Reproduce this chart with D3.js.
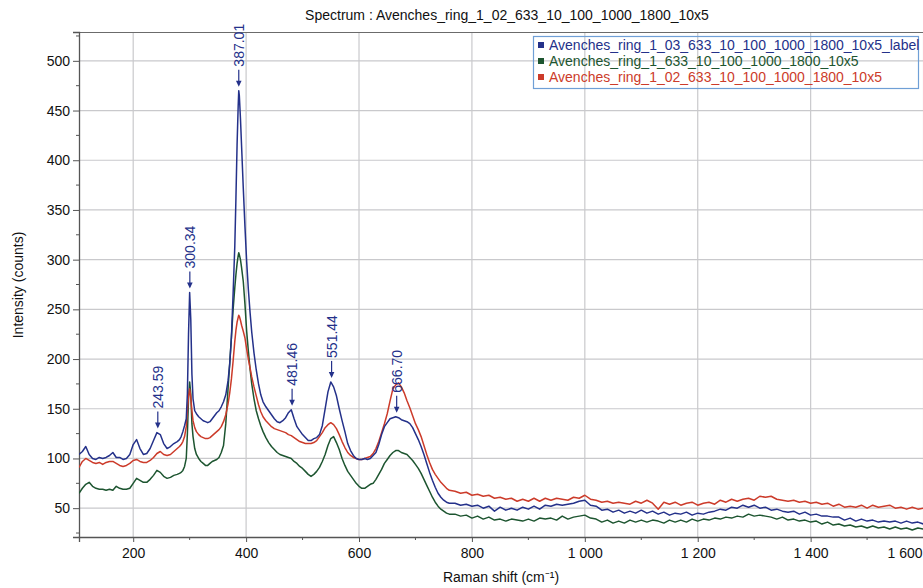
<!DOCTYPE html>
<html>
<head>
<meta charset="utf-8">
<script src="https://cdn.jsdelivr.net/npm/d3@7"></script>
<style>
  html, body { margin: 0; padding: 0; background: #ffffff; }
  svg { display: block; font-family: "Liberation Sans", Arial, sans-serif; }
</style>
</head>
<body>
<svg id="chart" width="923" height="588"></svg>
<script>
// Raman shift sampling (cm-1), shared by all three spectra
const ramanShift = [
  104,110,116,122,128,134,140,146,152,158,164,170,176,182,188,194,200,206,212,218,224,230,236,242,248,254,260,266,272,278,
  282,285,288,291,294,296,298,300,302,304,306,309,312,316,320,
  324,328,332,336,340,344,348,352,356,360,364,368,
  371,374,377,380,382,384,386,387,388,390,392,395,398,401,404,407,410,414,418,422,426,430,
  435,440,445,450,455,460,465,470,475,480,485,490,495,500,505,510,515,520,525,530,
  535,540,545,550,555,560,565,570,575,580,585,590,595,600,605,610,615,620,625,630,
  635,640,645,650,655,660,665,670,675,680,685,690,695,700,705,710,715,720,725,730,
  735,740,745,750,755,760,
  770,780,790,800,810,820,830,840,850,860,870,880,890,900,910,920,930,940,950,960,
  970,980,990,1000,1010,1020,1030,1040,1050,1060,1070,1080,1090,1100,1110,1120,1130,1140,1150,1160,
  1170,1180,1190,1200,1210,1220,1230,1240,1250,1260,1270,1280,1290,1300,1310,1320,1330,1340,1350,1360,
  1370,1380,1390,1400,1410,1420,1430,1440,1450,1460,1470,1480,1490,1500,1510,1520,1530,1540,1550,1560,
  1570,1580,1590,1600,1610,1620
];

// Avenches_ring_1_03_633_10_100_1000_1800_10x5_label
const intensityRing103 = [
  104,107,112,104,100,99,101,100,101,103,106,101,101,99,100,104,114,119,110,104,105,110,118,126,124,115,110,112,115,117,
  119,122,127,133,140,165,225,267,240,185,160,148,145,142,140,
  138,137,136,137,140,143,146,148,152,157,164,178,
  195,222,266,314,362,415,455,470,465,442,414,372,333,298,270,247,227,206,189,175,164,157,
  152,148,144,140,137,136,138,141,146,149,140,132,128,124,121,118,118,120,121,124,
  133,150,167,177,172,163,150,138,127,115,108,103,100,99,99,100,99,100,103,106,
  114,124,132,136,140,141,142,141,139,138,137,135,131,125,119,112,104,95,86,78,
  71,65,61,58,56,55,
  55,53,54,52,53,50,52,47,51,48,50,48,51,49,52,49,53,52,54,53,
  54,55,57,58,53,52,48,49,46,48,45,47,45,48,45,47,44,46,43,45,
  44,46,43,45,44,46,47,49,48,51,50,53,51,53,50,51,48,49,47,46,
  47,44,46,43,44,42,42,41,41,38,40,37,39,37,38,36,37,36,37,35,
  37,35,36,34,36,35
];

// Avenches_ring_1_633_10_100_1000_1800_10x5
const intensityRing1 = [
  65,70,74,76,72,70,69,69,68,69,68,72,70,69,69,70,75,80,78,76,76,79,83,88,86,82,80,81,83,84,
  85,86,88,92,100,125,160,177,165,135,122,110,104,100,97,
  95,93,93,95,97,98,99,101,106,113,135,170,
  196,222,250,272,285,296,304,307,305,300,292,278,255,228,208,190,175,160,148,140,133,127,
  121,116,112,109,106,104,103,102,101,100,97,95,92,90,87,84,82,84,87,91,
  97,104,113,120,122,116,109,100,93,87,83,79,75,72,70,70,72,74,75,79,
  84,89,95,99,103,106,108,108,106,105,104,101,98,94,90,85,79,73,67,61,
  56,52,49,47,45,44,
  44,42,43,40,42,39,41,38,39,37,39,38,37,39,37,40,39,40,38,42,
  39,41,42,43,40,39,36,38,35,37,35,38,36,38,36,38,37,35,38,36,
  38,36,39,37,39,38,40,39,41,40,42,41,44,42,43,42,41,39,41,38,
  39,37,38,36,37,34,36,33,34,32,33,31,32,30,32,30,31,29,31,29,
  30,28,30,29,29,28
];

// Avenches_ring_1_02_633_10_100_1000_1800_10x5
const intensityRing102 = [
  91,97,100,98,96,95,96,94,96,97,97,95,93,92,93,95,98,99,97,96,96,98,101,105,107,104,103,104,107,110,
  112,114,117,122,132,148,162,170,162,148,138,131,127,124,122,
  121,120,120,121,123,125,127,129,132,137,144,155,
  166,180,198,218,229,237,242,244,243,239,234,228,221,210,200,191,182,172,163,154,147,142,
  138,135,132,130,129,128,127,126,124,123,121,119,117,116,115,115,115,116,118,122,
  126,131,134,136,134,130,124,117,111,106,103,101,100,99,99,100,101,102,105,110,
  117,126,135,145,158,170,174,176,172,166,158,151,143,135,129,122,113,104,96,89,
  84,80,76,73,70,68,
  67,65,66,63,64,62,63,60,61,59,60,57,59,57,60,57,60,58,60,59,
  58,61,60,63,59,58,56,57,55,56,55,54,57,55,58,55,49,56,54,56,
  53,55,56,53,55,56,54,58,56,59,57,59,60,58,62,61,62,59,58,57,
  58,56,57,55,56,54,55,52,54,51,52,51,53,50,53,51,52,53,50,51,
  49,51,49,50,48,49
];

// Series names and colours, in legend order
const seriesNames = [
  "Avenches_ring_1_03_633_10_100_1000_1800_10x5_label",
  "Avenches_ring_1_633_10_100_1000_1800_10x5",
  "Avenches_ring_1_02_633_10_100_1000_1800_10x5"
];
const seriesColors = ["#24318a", "#1d5530", "#cc3b2a"];
const seriesValues = [intensityRing103, intensityRing1, intensityRing102];
// drawing order: green, red, blue on top
const drawOrder = [1, 2, 0];

// Labelled peaks of the *_label spectrum
const peakShifts = [243.59, 300.34, 387.01, 481.46, 551.44, 666.70];

// Axis ticks
const xTickValues = [200, 400, 600, 800, 1000, 1200, 1400, 1600];
const xMinorTicks = [300, 500, 700, 900, 1100, 1300, 1500];
const yTickValues = [50, 100, 150, 200, 250, 300, 350, 400, 450, 500];
const yMinorTicks = [25, 75, 125, 175, 225, 275, 325, 375, 425, 475, 525];

const titleText = "Spectrum : Avenches_ring_1_02_633_10_100_1000_1800_10x5";
const xTitle = "Raman shift (cm\u207B\u00B9)";
const yTitle = "Intensity (counts)";

// ---- layout ----
const W = 923, H = 588;
const plot = { left: 79, top: 32, bottom: 537, right: 980 };

const x = d3.scaleLinear().domain([104, 1700]).range([plot.left, plot.right]);
const y = d3.scaleLinear().domain([21, 529]).range([plot.bottom, plot.top]);

const svg = d3.select("#chart");
const fmt = d3.formatLocale({ decimal: ".", thousands: " ", grouping: [3], currency: ["", ""] }).format(",");

svg.append("defs").append("clipPath").attr("id", "plotClip")
  .append("rect")
  .attr("x", plot.left).attr("y", plot.top)
  .attr("width", plot.right - plot.left).attr("height", plot.bottom - plot.top);

// grid
const grid = svg.append("g").attr("stroke", "#c9c9cc").attr("stroke-width", 1.2);
grid.selectAll("line.v").data(xTickValues).join("line")
  .attr("class", "v")
  .attr("x1", d => x(d)).attr("x2", d => x(d))
  .attr("y1", plot.top).attr("y2", plot.bottom);
grid.selectAll("line.h").data(yTickValues).join("line")
  .attr("class", "h")
  .attr("x1", plot.left).attr("x2", plot.right)
  .attr("y1", d => y(d)).attr("y2", d => y(d));

// top frame line
svg.append("line")
  .attr("x1", plot.left).attr("x2", plot.right)
  .attr("y1", plot.top + 0.5).attr("y2", plot.top + 0.5)
  .attr("stroke", "#6b6b6b").attr("stroke-width", 1.2);

// axes
const axisColor = "#555";
const xAxis = svg.append("g")
  .attr("transform", `translate(0,${plot.bottom})`)
  .call(d3.axisBottom(x).tickValues(xTickValues).tickFormat(fmt).tickSize(5).tickPadding(6));
xAxis.append("g").selectAll("line").data(xMinorTicks).join("line")
  .attr("x1", d => x(d)).attr("x2", d => x(d)).attr("y1", 0).attr("y2", 3)
  .attr("stroke", axisColor);

const yAxis = svg.append("g")
  .attr("transform", `translate(${plot.left},0)`)
  .call(d3.axisLeft(y).tickValues(yTickValues).tickSize(6).tickPadding(3));
yAxis.append("g").selectAll("line").data(yMinorTicks).join("line")
  .attr("x1", -3).attr("x2", 0).attr("y1", d => y(d)).attr("y2", d => y(d))
  .attr("stroke", axisColor);

[xAxis, yAxis].forEach(a => {
  a.select(".domain").attr("stroke", axisColor).attr("stroke-width", 1.3);
  a.selectAll(".tick line").attr("stroke", axisColor);
  a.selectAll(".tick text")
    .attr("fill", "#111")
    .style("font-size", "14px")
    .style("font-family", "'Liberation Sans', Arial, sans-serif");
});
// last x label sits against the right edge of the page
xAxis.selectAll(".tick text").filter(d => d === 1600)
  .attr("text-anchor", "end").attr("x", W - 1 - x(1600));

// spectra
const line = d3.line()
  .x((d, i) => x(ramanShift[i]))
  .y(d => y(d));
const lines = svg.append("g").attr("clip-path", "url(#plotClip)");
drawOrder.forEach(k => {
  lines.append("path")
    .datum(seriesValues[k])
    .attr("fill", "none")
    .attr("stroke", seriesColors[k])
    .attr("stroke-width", 1.5)
    .attr("stroke-linejoin", "round")
    .attr("d", line);
});

// peak annotations on the *_label spectrum
const peakColor = "#24318a";
const ann = svg.append("g").attr("fill", peakColor).attr("stroke", peakColor);
peakShifts.forEach(p => {
  // nearest sample of the labelled spectrum
  let best = 0;
  ramanShift.forEach((s, i) => { if (Math.abs(s - p) < Math.abs(ramanShift[best] - p)) best = i; });
  const px = x(p);
  const tip = y(intensityRing103[best]) - 4;
  const tail = tip - 17;
  ann.append("line")
    .attr("x1", px).attr("x2", px).attr("y1", tail).attr("y2", tip - 2)
    .attr("stroke-width", 1.2);
  ann.append("path")
    .attr("d", `M${px - 2.8},${tip - 6} L${px + 2.8},${tip - 6} L${px},${tip} Z`)
    .attr("stroke", "none");
  ann.append("text")
    .attr("transform", `translate(${px},${tail - 3}) rotate(-90)`)
    .attr("dy", "0.36em")
    .attr("stroke", "none")
    .style("font-size", "14px")
    .text(p.toFixed(2));
});

// legend
const lg = svg.append("g");
lg.append("rect")
  .attr("x", 533.5).attr("y", 36.5).attr("width", 385).attr("height", 52)
  .attr("fill", "none").attr("stroke", "#6f9fd6").attr("stroke-width", 1.2);
seriesNames.forEach((name, i) => {
  const cy = 45 + i * 16;
  lg.append("rect")
    .attr("x", 538).attr("y", cy - 3).attr("width", 6).attr("height", 6)
    .attr("fill", seriesColors[i]);
  lg.append("text")
    .attr("x", 549).attr("y", cy).attr("dy", "0.36em")
    .attr("fill", seriesColors[i])
    .style("font-size", "14px")
    .text(name);
});

// titles
svg.append("text")
  .attr("x", 507).attr("y", 20).attr("text-anchor", "middle")
  .attr("fill", "#111").style("font-size", "14px")
  .text(titleText);
svg.append("text")
  .attr("x", 501).attr("y", 582).attr("text-anchor", "middle")
  .attr("fill", "#111").style("font-size", "14px")
  .text(xTitle);
svg.append("text")
  .attr("transform", `translate(23,285) rotate(-90)`)
  .attr("text-anchor", "middle")
  .attr("fill", "#111").style("font-size", "14px")
  .text(yTitle);
</script>
</body>
</html>
